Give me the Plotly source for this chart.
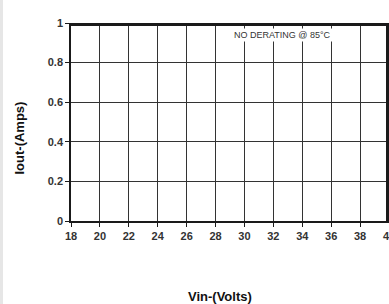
import plotly.graph_objects as go

vin = [18, 40, 40]
iout = [1, 1, 0]
x_ticks = [18, 20, 22, 24, 26, 28, 30, 32, 34, 36, 38, 40]
y_ticks = [0, 0.2, 0.4, 0.6, 0.8, 1]
y_tick_labels = ["0", "0.2", "0.4", "0.6", "0.8", "1"]
note_text = "NO DERATING @ 85°C"
x_title = "Vin-(Volts)"
y_title = "Iout-(Amps)"

W, H = 389, 304
L, R, T, B = 71, 0, 23, 83
pw, ph = W - L - R, H - T - B

fig = go.Figure()
fig.add_trace(go.Scatter(x=vin, y=iout, mode="lines",
                         line=dict(color="#1a1a1a", width=6),
                         hoverinfo="skip", showlegend=False))

tickfont = dict(size=11, family="Liberation Sans, Arial", color="#333", weight="bold")
fig.update_layout(
    width=W, height=H,
    margin=dict(l=L, r=R, t=T, b=B, pad=0),
    paper_bgcolor="white", plot_bgcolor="white",
    font=dict(family="Liberation Sans, Arial, sans-serif", color="#333"),
    xaxis=dict(range=[18, 40], tickvals=x_ticks, ticktext=[str(v) for v in x_ticks],
               showgrid=True, gridcolor="#333", gridwidth=1,
               showline=True, linecolor="#1a1a1a", linewidth=2,
               ticks="outside", ticklen=4, tickcolor="#1a1a1a",
               tickfont=tickfont, ticklabeloverflow="allow",
               zeroline=False, automargin=False),
    yaxis=dict(range=[0, 1], tickvals=y_ticks, ticktext=y_tick_labels,
               showgrid=True, gridcolor="#333", gridwidth=1,
               showline=True, linecolor="#1a1a1a", linewidth=1.5,
               ticks="outside", ticklen=4, tickcolor="#1a1a1a",
               tickfont=tickfont, ticklabeloverflow="allow",
               zeroline=False, automargin=False),
    shapes=[dict(type="rect", xref="paper", yref="paper",
                 x0=-L / pw, x1=(-L + 3) / pw, y0=-B / ph, y1=(ph + T) / ph,
                 fillcolor="#e6e6e6", line=dict(width=0), layer="above")],
)

fig.add_annotation(x=32.6, y=0.939, xref="x", yref="y", text=note_text, showarrow=False,
                   font=dict(size=9, family="Liberation Sans, Arial", color="#333"),
                   bgcolor="white", borderpad=1)
fig.add_annotation(x=(220 - L) / pw, y=(T + ph - 296.5) / ph, xref="paper", yref="paper",
                   xanchor="center", yanchor="middle",
                   text=x_title, showarrow=False,
                   font=dict(size=13, family="Liberation Sans Narrow, Liberation Sans, Arial", color="#111", weight="bold"))
fig.add_annotation(x=(19 - L) / pw, y=(T + ph - 138.5) / ph, xref="paper", yref="paper",
                   xanchor="center", yanchor="middle",
                   text=y_title, showarrow=False, textangle=-90,
                   font=dict(size=13, family="Liberation Sans Narrow, Liberation Sans, Arial", color="#111", weight="bold"))

fig.write_html("out.html", config={"displayModeBar": False},
               post_script="document.body.style.margin='0';document.body.style.overflow='hidden';")
